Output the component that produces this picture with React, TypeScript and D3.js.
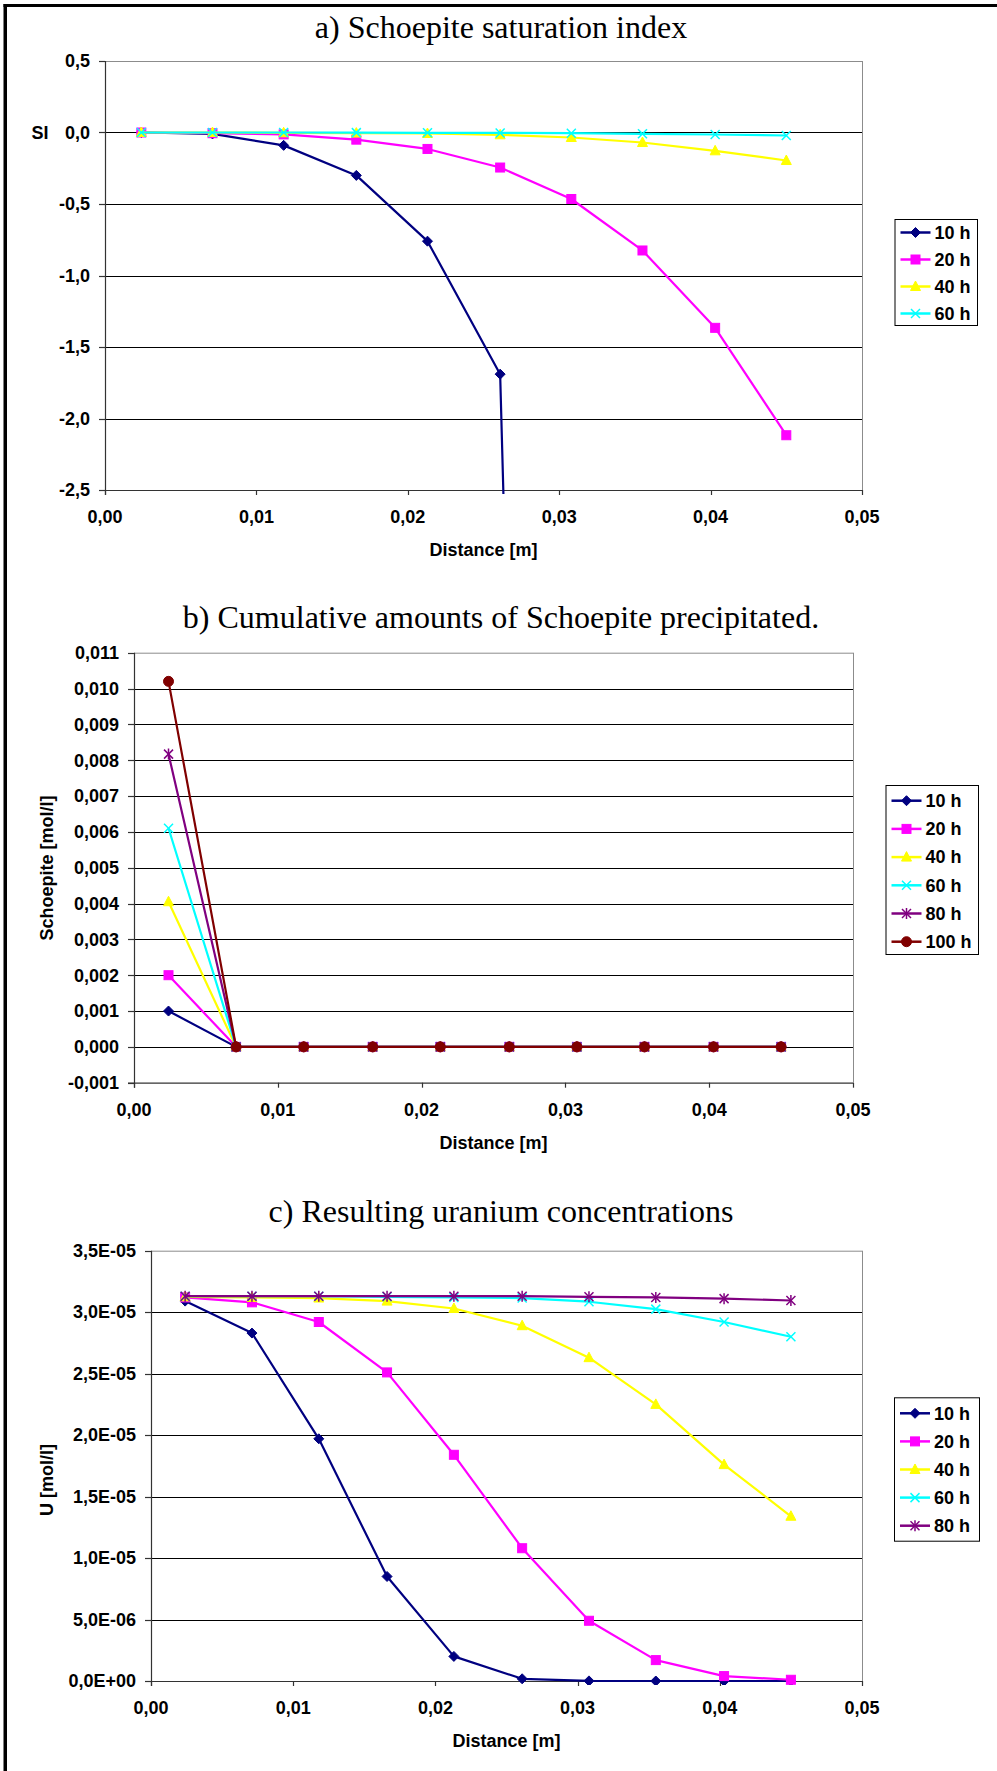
import React from "react";
import * as d3 from "d3";

// ---------- DATA ----------
const distance = [0.0024, 0.0071, 0.0118, 0.0166, 0.0213, 0.0261, 0.0308, 0.0355, 0.0403, 0.045];
const xTicks = [0, 0.01, 0.02, 0.03, 0.04, 0.05];
const xTickLabels = ["0,00", "0,01", "0,02", "0,03", "0,04", "0,05"];

// a) Saturation index
const si10h = [0, -0.01, -0.09, -0.3, -0.76, -1.69, -20.0];
const si20h = [0, -0.005, -0.013, -0.05, -0.115, -0.245, -0.465, -0.825, -1.366, -2.117];
const si40h = [0, 0, -0.002, -0.004, -0.007, -0.016, -0.035, -0.07, -0.128, -0.196];
const si60h = [0, 0, 0, -0.001, -0.002, -0.003, -0.005, -0.009, -0.014, -0.021];
const siTicks = [0.5, 0, -0.5, -1, -1.5, -2, -2.5];
const siTickLabels = ["0,5", "0,0", "-0,5", "-1,0", "-1,5", "-2,0", "-2,5"];

// b) Schoepite precipitated
const sch10h = [0.001, 0, 0, 0, 0, 0, 0, 0, 0, 0];
const sch20h = [0.002, 0, 0, 0, 0, 0, 0, 0, 0, 0];
const sch40h = [0.00405, 0, 0, 0, 0, 0, 0, 0, 0, 0];
const sch60h = [0.0061, 0, 0, 0, 0, 0, 0, 0, 0, 0];
const sch80h = [0.00817, 0, 0, 0, 0, 0, 0, 0, 0, 0];
const sch100h = [0.0102, 0, 0, 0, 0, 0, 0, 0, 0, 0];
const schTicks = [0.011, 0.01, 0.009, 0.008, 0.007, 0.006, 0.005, 0.004, 0.003, 0.002, 0.001, 0, -0.001];
const schTickLabels = ["0,011", "0,010", "0,009", "0,008", "0,007", "0,006", "0,005", "0,004", "0,003", "0,002", "0,001", "0,000", "-0,001"];

// c) Uranium
const u10h = [3.09e-5, 2.83e-5, 1.97e-5, 8.5e-6, 2.0e-6, 1.8e-7, 1e-8, 0, 0, 0];
const u20h = [3.12e-5, 3.08e-5, 2.92e-5, 2.51e-5, 1.84e-5, 1.08e-5, 4.9e-6, 1.7e-6, 4.0e-7, 1.0e-7];
const u40h = [3.125e-5, 3.12e-5, 3.115e-5, 3.09e-5, 3.03e-5, 2.89e-5, 2.63e-5, 2.25e-5, 1.76e-5, 1.34e-5];
const u60h = [3.13e-5, 3.13e-5, 3.13e-5, 3.125e-5, 3.12e-5, 3.115e-5, 3.085e-5, 3.025e-5, 2.92e-5, 2.8e-5];
const u80h = [3.13e-5, 3.13e-5, 3.13e-5, 3.13e-5, 3.13e-5, 3.13e-5, 3.125e-5, 3.12e-5, 3.11e-5, 3.095e-5];
const uTicks = [3.5e-5, 3e-5, 2.5e-5, 2e-5, 1.5e-5, 1e-5, 5e-6, 0];
const uTickLabels = ["3,5E-05", "3,0E-05", "2,5E-05", "2,0E-05", "1,5E-05", "1,0E-05", "5,0E-06", "0,0E+00"];

const seriesNames = ["10 h", "20 h", "40 h", "60 h", "80 h", "100 h"];

// ---------- STYLE ----------
const COLORS: Record<string, string> = {
  "10 h": "#000080",
  "20 h": "#FF00FF",
  "40 h": "#FFFF00",
  "60 h": "#00FFFF",
  "80 h": "#800080",
  "100 h": "#800000",
};
const MARKERS: Record<string, string> = {
  "10 h": "diamond",
  "20 h": "square",
  "40 h": "triangle",
  "60 h": "x",
  "80 h": "star",
  "100 h": "circle",
};

const SANS = "'Liberation Sans', Arial, Helvetica, sans-serif";
const SERIF = "'Liberation Serif', 'Times New Roman', serif";

function Marker({ kind, color, x, y }: { kind: string; color: string; x: number; y: number }) {
  switch (kind) {
    case "diamond":
      return <path d={`M${x},${y - 5}L${x + 5},${y}L${x},${y + 5}L${x - 5},${y}Z`} fill={color} stroke={color} strokeWidth={1} />;
    case "square":
      return <rect x={x - 4.5} y={y - 4.5} width={9} height={9} fill={color} stroke={color} strokeWidth={1} />;
    case "triangle":
      return <path d={`M${x},${y - 5.5}L${x + 5},${y + 4}L${x - 5},${y + 4}Z`} fill={color} stroke={color} strokeWidth={1} />;
    case "x":
      return (
        <g stroke={color} strokeWidth={1.5}>
          <line x1={x - 4.5} y1={y - 4.5} x2={x + 4.5} y2={y + 4.5} />
          <line x1={x - 4.5} y1={y + 4.5} x2={x + 4.5} y2={y - 4.5} />
        </g>
      );
    case "star":
      return (
        <g stroke={color} strokeWidth={1.5}>
          <line x1={x - 4.5} y1={y - 4.5} x2={x + 4.5} y2={y + 4.5} />
          <line x1={x - 4.5} y1={y + 4.5} x2={x + 4.5} y2={y - 4.5} />
          <line x1={x} y1={y - 5.5} x2={x} y2={y + 5.5} />
        </g>
      );
    case "circle":
      return <circle cx={x} cy={y} r={5} fill={color} stroke={color} strokeWidth={1} />;
  }
  return null;
}

type Series = { name: string; values: number[] };

type ChartCfg = {
  id: string;
  title: string;
  titleY: number;
  left: number;
  right: number;
  top: number;
  bottom: number;
  yDomain: [number, number];
  yTicks: number[];
  yTickLabels: string[];
  yTitle: string;
  yTitleRotated: boolean;
  yTitleX: number;
  yTitleY: number;
  series: Series[];
  legend: { x0: number; x1: number; y0: number; y1: number; first: number; step: number };
};

function Chart({ cfg }: { cfg: ChartCfg }) {
  const x = d3.scaleLinear().domain([0, 0.05]).range([cfg.left, cfg.right]);
  const y = d3.scaleLinear().domain(cfg.yDomain).range([cfg.bottom, cfg.top]);
  const line = d3
    .line<[number, number]>()
    .x((d) => x(d[0]))
    .y((d) => y(d[1]));
  const clipId = `clip-${cfg.id}`;
  const cx = 501;
  const lg = cfg.legend;
  return (
    <g>
      <defs>
        <clipPath id={clipId}>
          <rect x={cfg.left} y={cfg.top - 8} width={cfg.right - cfg.left + 8} height={cfg.bottom - cfg.top + 12} />
        </clipPath>
      </defs>
      <text x={cx} y={cfg.titleY} textAnchor="middle" fontFamily={SERIF} fontSize={32} fill="#000">
        {cfg.title}
      </text>
      {/* plot area frame */}
      <line x1={cfg.left} x2={cfg.right} y1={cfg.top + 0.5} y2={cfg.top + 0.5} stroke="#8c8c8c" strokeWidth={1} />
      <line x1={cfg.right + 0.5} x2={cfg.right + 0.5} y1={cfg.top} y2={cfg.bottom} stroke="#8c8c8c" strokeWidth={1} />
      {/* gridlines */}
      {cfg.yTicks.map((t, i) =>
        t === cfg.yDomain[0] || t === cfg.yDomain[1] ? null : (
          <line key={`g${i}`} x1={cfg.left} x2={cfg.right} y1={Math.round(y(t)) + 0.5} y2={Math.round(y(t)) + 0.5} stroke="#000" strokeWidth={1} />
        )
      )}
      {/* y axis */}
      <line x1={cfg.left + 0.5} x2={cfg.left + 0.5} y1={cfg.top} y2={cfg.bottom + 5} stroke="#333" strokeWidth={1.2} />
      {cfg.yTicks.map((t, i) => (
        <g key={`yt${i}`}>
          <line x1={cfg.left - 6} x2={cfg.left} y1={Math.round(y(t)) + 0.5} y2={Math.round(y(t)) + 0.5} stroke="#333" strokeWidth={1.2} />
          <text x={cfg.left - 15} y={y(t)} dy="0.35em" textAnchor="end" fontFamily={SANS} fontWeight="bold" fontSize={18} fill="#000">
            {cfg.yTickLabels[i]}
          </text>
        </g>
      ))}
      {/* x axis */}
      <line x1={cfg.left - 6} x2={cfg.right} y1={cfg.bottom + 0.5} y2={cfg.bottom + 0.5} stroke="#333" strokeWidth={1.2} />
      {xTicks.map((t, i) => (
        <g key={`xt${i}`}>
          <line x1={Math.round(x(t)) + 0.5} x2={Math.round(x(t)) + 0.5} y1={cfg.bottom} y2={cfg.bottom + 5} stroke="#333" strokeWidth={1.2} />
          <text x={x(t)} y={cfg.bottom + 33} textAnchor="middle" fontFamily={SANS} fontWeight="bold" fontSize={18} fill="#000">
            {xTickLabels[i]}
          </text>
        </g>
      ))}
      <text x={(cfg.left + cfg.right) / 2} y={cfg.bottom + 66} textAnchor="middle" fontFamily={SANS} fontWeight="bold" fontSize={18} fill="#000">
        Distance [m]
      </text>
      {cfg.yTitleRotated ? (
        <text
          transform={`translate(${cfg.yTitleX},${cfg.yTitleY}) rotate(-90)`}
          textAnchor="middle"
          dy="0.35em"
          fontFamily={SANS}
          fontWeight="bold"
          fontSize={18}
          fill="#000"
        >
          {cfg.yTitle}
        </text>
      ) : (
        <text x={cfg.yTitleX} y={cfg.yTitleY} dy="0.35em" textAnchor="middle" fontFamily={SANS} fontWeight="bold" fontSize={18} fill="#000">
          {cfg.yTitle}
        </text>
      )}
      {/* series */}
      <g clipPath={`url(#${clipId})`}>
        {cfg.series.map((s) => {
          const pts: [number, number][] = s.values.map((v, i) => [distance[i], v]);
          const color = COLORS[s.name];
          return (
            <g key={s.name}>
              <path d={line(pts) || ""} fill="none" stroke={color} strokeWidth={2.2} strokeLinejoin="round" />
              {pts
                .filter((p) => p[1] >= cfg.yDomain[0] && p[1] <= cfg.yDomain[1])
                .map((p, i) => (
                  <Marker key={i} kind={MARKERS[s.name]} color={color} x={x(p[0])} y={y(p[1])} />
                ))}
            </g>
          );
        })}
      </g>
      {/* legend */}
      <rect x={lg.x0 + 0.5} y={lg.y0 + 0.5} width={lg.x1 - lg.x0} height={lg.y1 - lg.y0} fill="#fff" stroke="#000" strokeWidth={1} />
      {cfg.series.map((s, i) => {
        const ly = lg.first + i * lg.step;
        const color = COLORS[s.name];
        return (
          <g key={`l${s.name}`}>
            <line x1={lg.x0 + 6} x2={lg.x0 + 36} y1={ly} y2={ly} stroke={color} strokeWidth={2.5} />
            <Marker kind={MARKERS[s.name]} color={color} x={lg.x0 + 21} y={ly} />
            <text x={lg.x0 + 40} y={ly} dy="0.35em" fontFamily={SANS} fontWeight="bold" fontSize={18} fill="#000">
              {s.name}
            </text>
          </g>
        );
      })}
    </g>
  );
}

const charts: ChartCfg[] = [
  {
    id: "a",
    title: "a) Schoepite saturation index",
    titleY: 38,
    left: 105,
    right: 862,
    top: 61,
    bottom: 490,
    yDomain: [-2.5, 0.5],
    yTicks: siTicks,
    yTickLabels: siTickLabels,
    yTitle: "SI",
    yTitleRotated: false,
    yTitleX: 40,
    yTitleY: 132.7,
    series: [
      { name: seriesNames[0], values: si10h },
      { name: seriesNames[1], values: si20h },
      { name: seriesNames[2], values: si40h },
      { name: seriesNames[3], values: si60h },
    ],
    legend: { x0: 894.5, x1: 977, y0: 219, y1: 325, first: 232.5, step: 27 },
  },
  {
    id: "b",
    title: "b) Cumulative amounts of Schoepite precipitated.",
    titleY: 628,
    left: 134,
    right: 853,
    top: 652.7,
    bottom: 1082.7,
    yDomain: [-0.001, 0.011],
    yTicks: schTicks,
    yTickLabels: schTickLabels,
    yTitle: "Schoepite [mol/l]",
    yTitleRotated: true,
    yTitleX: 46.7,
    yTitleY: 868,
    series: [
      { name: seriesNames[0], values: sch10h },
      { name: seriesNames[1], values: sch20h },
      { name: seriesNames[2], values: sch40h },
      { name: seriesNames[3], values: sch60h },
      { name: seriesNames[4], values: sch80h },
      { name: seriesNames[5], values: sch100h },
    ],
    legend: { x0: 885.5, x1: 978, y0: 785, y1: 954, first: 800.7, step: 28.2 },
  },
  {
    id: "c",
    title: "c) Resulting uranium concentrations",
    titleY: 1221.5,
    left: 151,
    right: 862,
    top: 1250.7,
    bottom: 1681,
    yDomain: [0, 3.5e-5],
    yTicks: uTicks,
    yTickLabels: uTickLabels,
    yTitle: "U [mol/l]",
    yTitleRotated: true,
    yTitleX: 46.7,
    yTitleY: 1480,
    series: [
      { name: seriesNames[0], values: u10h },
      { name: seriesNames[1], values: u20h },
      { name: seriesNames[2], values: u40h },
      { name: seriesNames[3], values: u60h },
      { name: seriesNames[4], values: u80h },
    ],
    legend: { x0: 894, x1: 979, y0: 1397.3, y1: 1540.7, first: 1413.3, step: 28.1 },
  },
];

export default function App() {
  return (
    <svg
      width={997}
      height={1771}
      viewBox="0 0 997 1771"
      style={{ position: "absolute", left: 0, top: 0, display: "block", background: "#fff" }}
    >
      <rect x={0} y={0} width={997} height={1771} fill="#fff" />
      {/* outer frame (top and left edges visible) */}
      <rect x={3.5} y={4} width={3.5} height={1767} fill="#000" />
      <rect x={3.5} y={4} width={993.5} height={3} fill="#000" />
      {charts.map((c) => (
        <Chart key={c.id} cfg={c} />
      ))}
    </svg>
  );
}
